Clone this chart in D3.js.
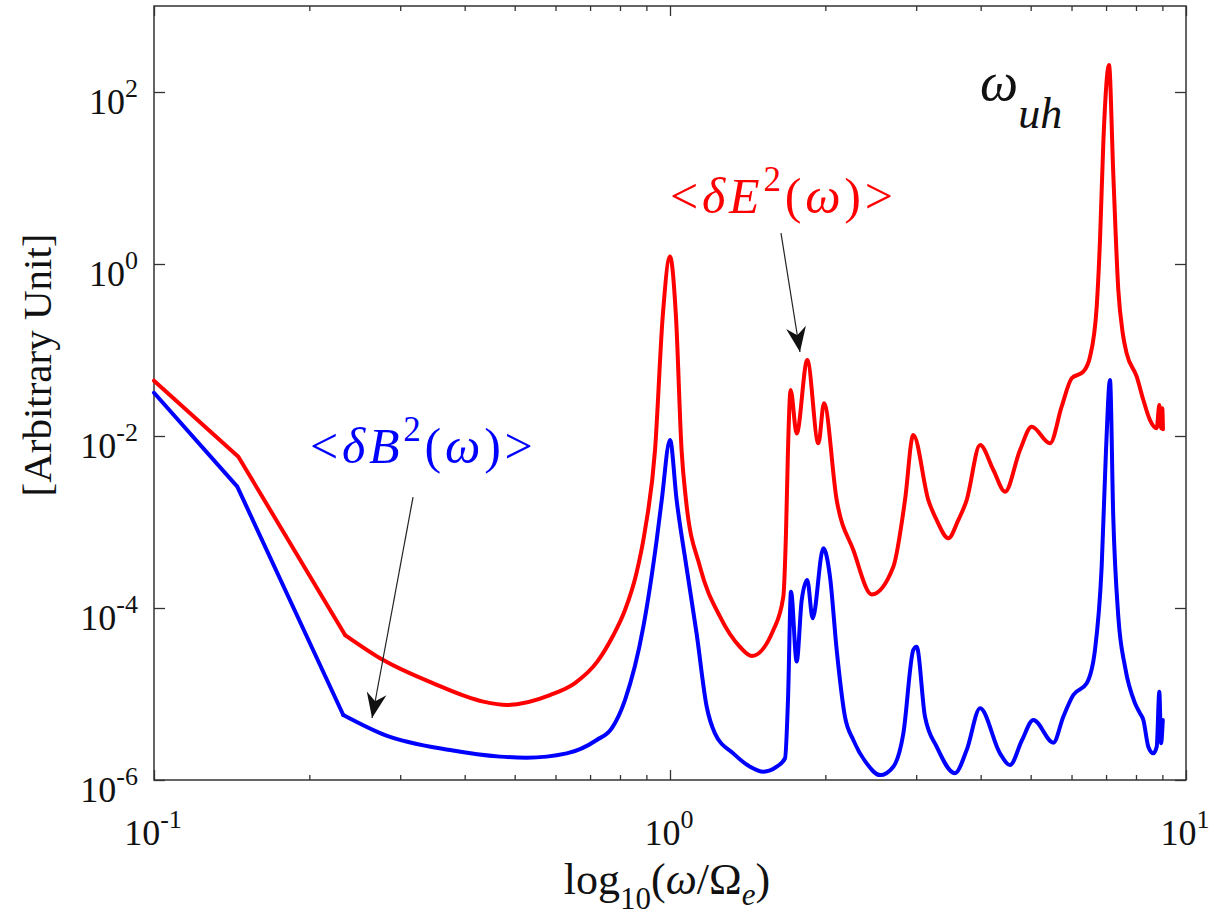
<!DOCTYPE html>
<html>
<head>
<meta charset="utf-8">
<title>Spectra</title>
<script src="https://d3js.org/d3.v7.min.js"></script>
<style>
  body { margin: 0; background: #fff; }
  text { font-family: "Liberation Serif", "Times New Roman", "DejaVu Serif", serif; }
</style>
</head>
<body>
<div id="chart"></div>
<script>
// <dE^2(w)> : [omega / Omega_e, value]
var seriesE = [
  [0.1, 4.40e-2], [0.1457, 5.74e-3], [0.2346, 4.85e-5], [0.2782, 2.48e-5], [0.3477, 1.33e-5],
  [0.4346, 8.15e-6], [0.4826, 7.45e-6], [0.5854, 9.73e-6], [0.6544, 1.34e-5], [0.7223, 2.36e-5],
  [0.7750, 4.72e-5], [0.8181, 9.48e-5], [0.8593, 2.42e-4], [0.8946, 8.07e-4],
  [0.9354, 6.87e-3], [0.968, 0.244], [1.0, 1.22], [1.027, 0.244], [1.053, 6.87e-3],
  [1.074, 1.80e-3], [1.143, 3.02e-4], [1.250, 7.93e-5], [1.367, 3.52e-5], [1.440, 2.77e-5],
  [1.586, 5.55e-5], [1.658, 1.35e-4], [1.678, 7.45e-4], [1.693, 6.87e-3], [1.713, 3.43e-2],
  [1.760, 1.07e-2], [1.845, 7.66e-2], [1.939, 8.22e-3], [1.988, 2.40e-2], [2.104, 1.80e-3],
  [2.266, 4.72e-4], [2.460, 1.44e-4], [2.709, 3.02e-4], [2.854, 1.80e-3], [2.961, 1.03e-2],
  [3.167, 1.80e-3], [3.287, 1.05e-3], [3.463, 6.46e-4], [3.620, 1.05e-3], [3.758, 1.80e-3],
  [3.990, 7.85e-3], [4.233, 4.03e-3], [4.460, 2.25e-3], [4.768, 6.87e-3], [5.023, 1.28e-2],
  [5.451, 8.22e-3], [5.741, 2.19e-2], [6.005, 4.69e-2], [6.324, 5.60e-2], [6.516, 8.36e-2],
  [6.713, 0.318], [6.813, 1.90], [6.918, 27.7], [7.092, 206], [7.228, 11.4],
  [7.393, 0.499], [7.541, 0.156], [7.674, 9.14e-2], [8.026, 4.90e-2], [8.267, 2.62e-2],
  [8.516, 1.53e-2], [8.775, 1.23e-2], [8.878, 2.29e-2], [8.946, 1.23e-2], [8.996, 2.1e-2],
  [9.023, 1.2e-2]
];

// <dB^2(w)>
var seriesB = [
  [0.1, 3.18e-2], [0.1450, 2.58e-3], [0.2327, 5.70e-6], [0.2804, 3.33e-6], [0.3747, 2.23e-6],
  [0.4683, 1.87e-6], [0.5276, 1.82e-6], [0.6306, 2.04e-6], [0.7211, 2.92e-6], [0.7709, 3.99e-6],
  [0.818, 8.51e-6], [0.8879, 6.07e-5], [0.9423, 6.18e-4], [0.9638, 1.80e-3], [1.0, 8.97e-3],
  [1.030, 1.80e-3], [1.076, 3.02e-4], [1.126, 5.07e-5], [1.178, 7.11e-6], [1.222, 3.49e-6],
  [1.326, 2.04e-6], [1.429, 1.43e-6], [1.517, 1.25e-6], [1.610, 1.43e-6], [1.671, 1.79e-6],
  [1.693, 8.51e-6], [1.716, 1.55e-4], [1.760, 2.38e-5], [1.800, 1.24e-4], [1.845, 2.12e-4],
  [1.890, 7.59e-5], [1.982, 4.94e-4], [2.042, 2.31e-4], [2.104, 3.25e-5], [2.183, 5.45e-6],
  [2.266, 2.92e-6], [2.405, 1.56e-6], [2.553, 1.14e-6], [2.709, 1.43e-6], [2.833, 3.49e-6],
  [2.962, 3.25e-5], [3.006, 3.55e-5], [3.120, 5.45e-6], [3.287, 2.44e-6], [3.566, 1.20e-6],
  [3.758, 2.23e-6], [3.990, 6.82e-6], [4.360, 2.04e-6], [4.559, 1.49e-6], [4.811, 2.92e-6],
  [5.060, 4.99e-6], [5.533, 2.72e-6], [5.784, 5.45e-6], [6.047, 9.73e-6], [6.420, 1.33e-5],
  [6.662, 3.25e-5], [6.864, 3.02e-4], [6.998, 6.87e-3], [7.124, 4.48e-2], [7.228, 1.15e-3],
  [7.393, 7.93e-5], [7.617, 2.08e-5], [7.965, 7.80e-6], [8.145, 5.96e-6], [8.267, 4.99e-6],
  [8.452, 2.44e-6], [8.641, 2.04e-6], [8.775, 2.44e-6], [8.878, 1.06e-5], [8.946, 2.67e-6],
  [9.016, 4.99e-6]
];

var xMajor = [0.1, 1, 10];
var xMajorExp = ["-1", "0", "1"];
var xMinor = [0.2, 0.3, 0.4, 0.5, 0.6, 0.7, 0.8, 0.9, 2, 3, 4, 5, 6, 7, 8, 9];
var yMajor = [1e-6, 1e-4, 1e-2, 1, 1e2];
var yMajorExp = ["-6", "-4", "-2", "0", "2"];

// annotation anchors in data units
var arrowE = {from: [1.641, 2.29], to: [1.786, 0.0948]};
var arrowB = {from: [0.3177, 1.95e-3], to: [0.2646, 5.26e-6]};
var labelE = [1.0, 3.92];
var labelB = [0.2005, 4.85e-3];
var labelUH = [3.99, 80.7];

var margin = {top: 6, right: 28, bottom: 141, left: 154},
    width = 1214 - margin.left - margin.right,
    height = 921 - margin.top - margin.bottom;

var svg = d3.select("#chart")
  .append("svg")
    .attr("width", 1214)
    .attr("height", 921);

var defs = svg.append("defs");
defs.append("marker")
    .attr("id", "head")
    .attr("markerUnits", "userSpaceOnUse")
    .attr("viewBox", "-27 -11 28 22")
    .attr("markerWidth", 28)
    .attr("markerHeight", 22)
    .attr("refX", 0)
    .attr("refY", 0)
    .attr("orient", "auto")
  .append("path")
    .attr("d", "M0,0 L-25,-10 L-17,0 L-25,10 Z")
    .attr("fill", "#111");

var g = svg.append("g")
    .attr("transform", "translate(" + margin.left + "," + margin.top + ")");

var x = d3.scaleLog().domain([0.1, 10]).range([0, width]);
var y = d3.scaleLog().domain([1e-6, 1e3]).range([height, 0]);

function clean(sel) {
  sel.select(".domain").remove();
  sel.selectAll(".tick line").attr("stroke", "#333").attr("stroke-width", 1.3);
}

// ticks pointing inward on all four sides
g.append("g").attr("transform", "translate(0," + height + ")")
  .call(d3.axisBottom(x).tickValues(xMajor).tickSize(-10).tickFormat("")).call(clean);
g.append("g").attr("transform", "translate(0," + height + ")")
  .call(d3.axisBottom(x).tickValues(xMinor).tickSize(-5).tickFormat("")).call(clean);
g.append("g")
  .call(d3.axisTop(x).tickValues(xMajor).tickSize(-10).tickFormat("")).call(clean);
g.append("g")
  .call(d3.axisTop(x).tickValues(xMinor).tickSize(-5).tickFormat("")).call(clean);
g.append("g")
  .call(d3.axisLeft(y).tickValues(yMajor).tickSize(-11).tickFormat("")).call(clean);
g.append("g").attr("transform", "translate(" + width + ",0)")
  .call(d3.axisRight(y).tickValues(yMajor).tickSize(-11).tickFormat("")).call(clean);

g.append("rect")
    .attr("width", width)
    .attr("height", height)
    .attr("fill", "none")
    .attr("stroke", "#333")
    .attr("stroke-width", 1.5);

// tick labels 10^n
var xl = g.selectAll(".xlab")
  .data(xMajor)
  .enter().append("text")
    .attr("class", "xlab")
    .attr("x", function(d) { return x(d) - 1; })
    .attr("y", height + 65)
    .attr("text-anchor", "middle")
    .attr("fill", "#111")
    .attr("font-size", 36);
xl.append("tspan").text("10");
xl.append("tspan").attr("dy", -17).attr("font-size", 26)
  .text(function(d, i) { return xMajorExp[i]; });

var yl = g.selectAll(".ylab")
  .data(yMajor)
  .enter().append("text")
    .attr("class", "ylab")
    .attr("x", -16)
    .attr("y", function(d) { return y(d) + 22; })
    .attr("text-anchor", "end")
    .attr("fill", "#111")
    .attr("font-size", 36);
yl.append("tspan").text("10");
yl.append("tspan").attr("dy", -17).attr("font-size", 26)
  .text(function(d, i) { return yMajorExp[i]; });

// axis titles
var xt = g.append("text")
    .attr("x", width / 2 - 3)
    .attr("y", height + 114)
    .attr("text-anchor", "middle")
    .attr("fill", "#111")
    .attr("font-size", 44);
xt.append("tspan").text("log");
xt.append("tspan").attr("dy", 15).attr("font-size", 31).text("10");
xt.append("tspan").attr("dy", -15).text("(");
xt.append("tspan").attr("font-style", "italic").text("ω");
xt.append("tspan").text("/Ω");
xt.append("tspan").attr("dy", 11).attr("font-size", 31).attr("font-style", "italic").text("e");
xt.append("tspan").attr("dy", -11).text(")");

g.append("text")
    .attr("transform", "translate(" + (51 - margin.left) + "," + (365 - margin.top) + ") rotate(-90)")
    .attr("text-anchor", "middle")
    .attr("fill", "#111")
    .attr("font-size", 41)
    .text("[Arbitrary Unit]");

// curves: coarse straight start, smooth afterwards
var straight = d3.line()
    .x(function(d) { return x(d[0]); })
    .y(function(d) { return y(d[1]); });
var smooth = d3.line()
    .x(function(d) { return x(d[0]); })
    .y(function(d) { return y(d[1]); })
    .curve(d3.curveMonotoneX);

[[seriesE, "#ff0000"], [seriesB, "#0000ff"]].forEach(function(s) {
  g.append("path")
      .datum(s[0].slice(0, 3))
      .attr("d", straight)
      .attr("fill", "none")
      .attr("stroke", s[1])
      .attr("stroke-width", 4)
      .attr("stroke-linejoin", "round")
      .attr("stroke-linecap", "round");
  g.append("path")
      .datum(s[0].slice(2))
      .attr("d", smooth)
      .attr("fill", "none")
      .attr("stroke", s[1])
      .attr("stroke-width", 4)
      .attr("stroke-linejoin", "round")
      .attr("stroke-linecap", "round");
});

// arrows
[arrowE, arrowB].forEach(function(a) {
  g.append("line")
      .attr("x1", x(a.from[0])).attr("y1", y(a.from[1]))
      .attr("x2", x(a.to[0])).attr("y2", y(a.to[1]))
      .attr("stroke", "#222")
      .attr("stroke-width", 1.2)
      .attr("marker-end", "url(#head)");
});

// labels
function bracketLabel(pos, letter, color) {
  var t = g.append("text")
      .attr("x", x(pos[0]))
      .attr("y", y(pos[1]))
      .attr("fill", color)
      .attr("font-size", 50)
      .attr("letter-spacing", 3.8);
  t.append("tspan").text("<");
  t.append("tspan").attr("font-style", "italic").text("δ" + letter);
  t.append("tspan").attr("dy", -22).attr("font-size", 35).text("2");
  t.append("tspan").attr("dy", 22).text("(");
  t.append("tspan").attr("font-style", "italic").text("ω");
  t.append("tspan").text(")>");
}
bracketLabel(labelE, "E", "#ff0000");
bracketLabel(labelB, "B", "#0000ff");

var uh = g.append("text")
    .attr("x", x(labelUH[0]))
    .attr("y", y(labelUH[1]))
    .attr("fill", "#111")
    .attr("font-size", 54)
    .attr("font-style", "italic");
uh.append("tspan").text("ω");
uh.append("tspan").attr("dy", 28).attr("font-size", 44).text("uh");
</script>
</body>
</html>
